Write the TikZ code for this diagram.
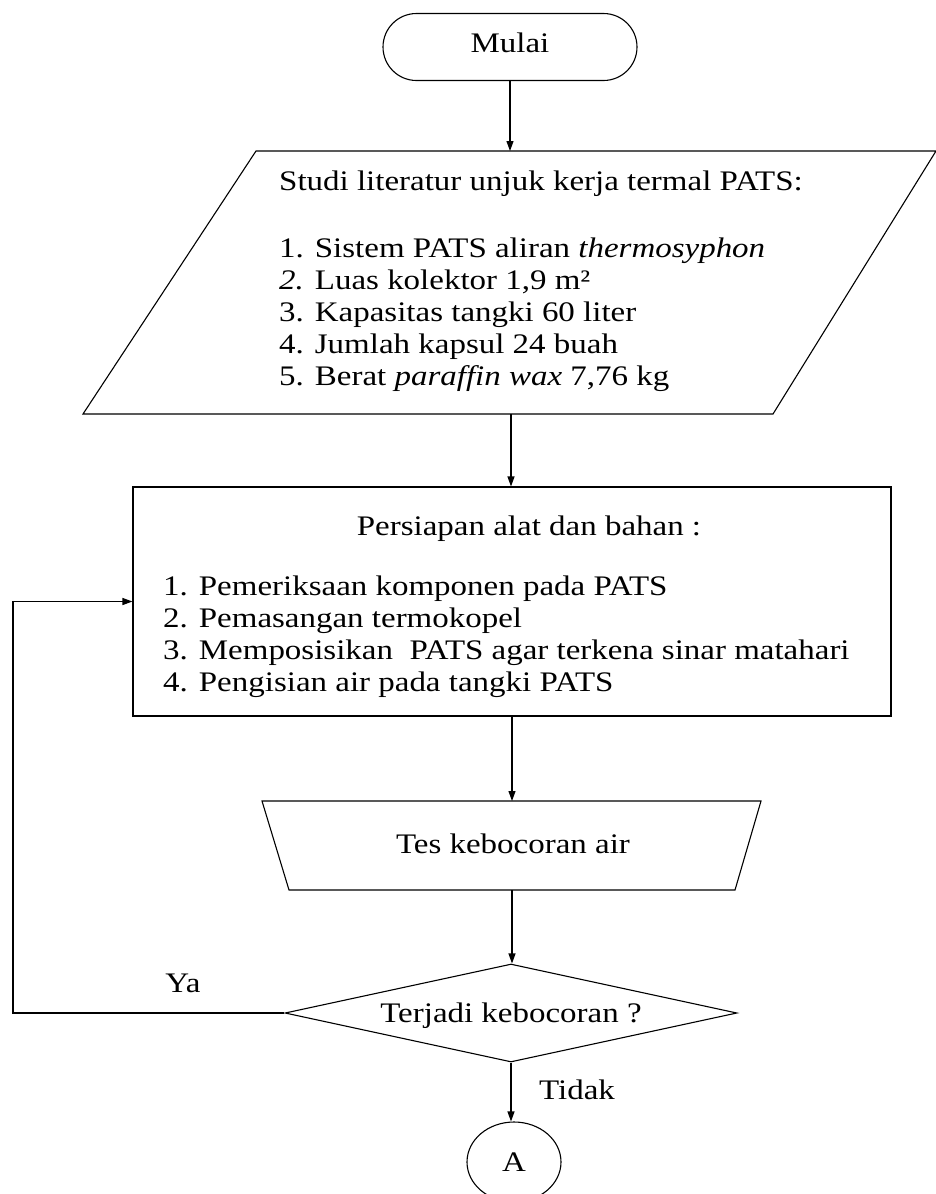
\documentclass[tikz,border=0pt]{standalone}
\usepackage{fontspec}
\setmainfont{Liberation Serif}[FakeStretch=1.165]
\usetikzlibrary{shapes.geometric,shapes.misc,arrows.meta}
\begin{document}
\begin{tikzpicture}[x=1pt,y=-1pt,
  every node/.style={inner sep=0pt, font=\fontsize{28.3}{32}\selectfont},
  line/.style={line width=1.1pt, draw=black},
  arr/.style={line, -{Triangle[length=10pt,width=7pt]}},
  shapebox/.style={draw=black, line width=1.1pt},
  txt/.style={anchor=base},
  list/.style={anchor=north west, align=left}]
\useasboundingbox (0,0) rectangle (936,1194);

% start terminal
\node[shapebox, rounded rectangle, minimum width=254pt, minimum height=67pt] (start) at (510,47) {};
\node[txt] (startlbl) at (510,52) {Mulai};

% literature parallelogram
\draw[shapebox] (256,151) -- (936,151) -- (773,414) -- (83,414) -- cycle;
\coordinate (littop) at (511,151);
\coordinate (litbot) at (511,414);
\node[list] (littxt) at (279,171) {Studi literatur unjuk kerja termal PATS:\\[35pt]
1. Sistem PATS aliran \textit{thermosyphon}\\
\textit{2.} Luas kolektor 1,9 m²\\
3. Kapasitas tangki 60 liter\\
4. Jumlah kapsul 24 buah\\
5. Berat \textit{paraffin wax} 7,76 kg};

% preparation rectangle
\node[shapebox, rectangle, minimum width=758pt, minimum height=229pt] (prep) at (512,601.5) {};
\node[txt] (prephead) at (529,535) {Persiapan alat dan bahan :};
\node[list] (preptxt) at (163,576) {1. Pemeriksaan komponen pada PATS\\
2. Pemasangan termokopel\\
3. Memposisikan\ \ PATS agar terkena sinar matahari\\
4. Pengisian air pada tangki PATS};

% leak test trapezoid
\draw[shapebox] (262,801) -- (761,801) -- (735,890) -- (289,890) -- cycle;
\coordinate (testtop) at (512,801);
\coordinate (testbot) at (512,890);
\node[txt] (testlbl) at (513,853) {Tes kebocoran air};

% decision
\node[shapebox, diamond, minimum width=452pt, minimum height=98pt] (dec) at (511,1013) {};
\node[txt] (declbl) at (511,1022) {Terjadi kebocoran ?};

% connector A
\node[shapebox, ellipse, minimum width=94pt, minimum height=80pt] (conA) at (514,1162) {A};

% connectors
\coordinate (loop) at (13,1013);
\draw[arr] (start.south) -- (start.south |- littop);
\draw[arr] (litbot) -- (litbot |- prep.north);
\draw[arr] (prep.south) -- (prep.south |- testtop);
\draw[arr] (testbot) -- (testbot |- dec.north);
\draw[arr] (dec.west) -- (loop) |- (prep.west);
\draw[arr] (dec.south) -- (dec.south |- conA.north);

\node[txt] (ya) at (183,992) {Ya};
\node[txt] (tidak) at (577,1099) {Tidak};
\end{tikzpicture}
\end{document}
